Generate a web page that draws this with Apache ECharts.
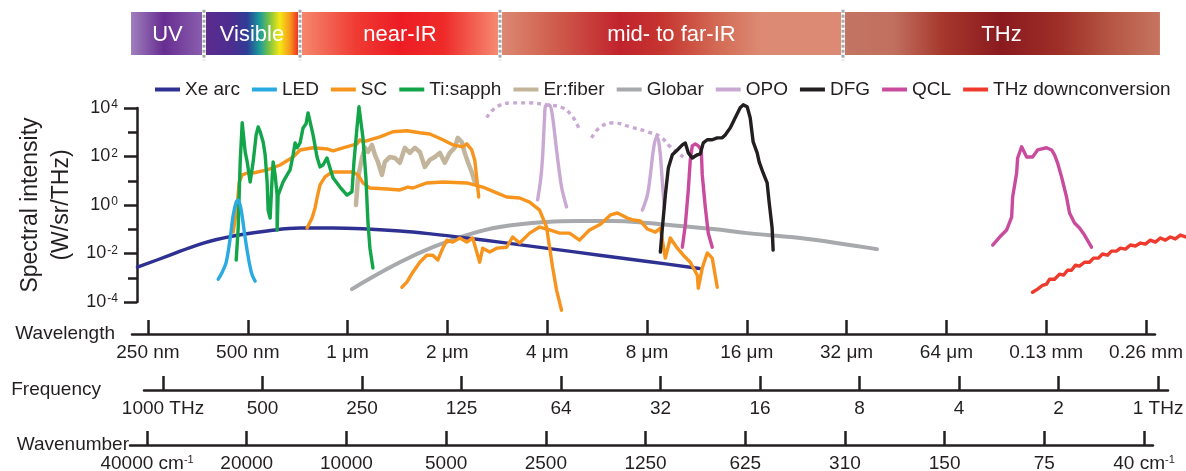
<!DOCTYPE html>
<html>
<head>
<meta charset="utf-8">
<script src="https://cdn.jsdelivr.net/npm/echarts@6/dist/echarts.min.js"></script>
<style>
  html, body { margin: 0; padding: 0; background: #fff; }
  #chart { width: 1186px; height: 471px; }
</style>
</head>
<body>
<div id="chart"></div>
<script>
// Spectra of broadband and tunable light sources.
// Every point is [log2(wavelength / µm), log10(spectral intensity / W·sr⁻¹·THz⁻¹)].

const xeArc = [[-2.11,-2.56],[-1.81,-2.11],[-1.48,-1.61],[-1.15,-1.28],[-0.81,-1.07],[-0.48,-0.95],
  [-0.15,-0.95],[0.19,-0.99],[0.52,-1.07],[0.85,-1.20],[1.19,-1.36],[1.52,-1.53],[2.02,-1.80],
  [2.52,-2.07],[3.02,-2.34],[3.52,-2.62]];

const led = [[-1.30,-3.06],[-1.26,-2.77],[-1.22,-2.36],[-1.18,-1.36],[-1.15,-0.41],[-1.12,0.12],
  [-1.10,0.21],[-1.07,-0.21],[-1.03,-1.36],[-0.99,-2.36],[-0.96,-2.89],[-0.93,-3.14]];

const scVisNir = [[-1.15,-1.12],[-1.11,0.00],[-1.09,0.95],[-1.06,1.24],[-1.01,1.32],[-0.95,1.32],
  [-0.81,1.45],[-0.68,1.65],[-0.55,1.98],[-0.48,2.27],[-0.35,2.36],[-0.21,2.31],[-0.15,2.23],
  [-0.05,2.36],[0.09,2.52],[0.12,2.69],[0.15,2.60],[0.32,2.81],[0.45,3.02],[0.59,3.06],[0.72,2.98],
  [0.82,2.93],[0.95,2.69],[1.05,2.48],[1.15,2.40],[1.19,2.52],[1.24,2.27],[1.27,1.86],[1.29,1.12],
  [1.31,0.33]];

const scNirMir = [[-0.41,-0.95],[-0.36,-0.54],[-0.33,-0.12],[-0.31,0.29],[-0.28,0.83],[-0.23,1.16],
  [-0.16,1.36],[-0.08,1.36],[0.05,1.36],[0.10,1.24],[0.15,0.91],[0.22,0.70],[0.39,0.66],[0.52,0.62],
  [0.60,0.74],[0.65,0.70],[0.79,0.91],[0.95,0.95],[1.19,0.91],[1.35,0.74],[1.49,0.50],[1.59,0.33],
  [1.72,0.29],[1.82,0.12],[1.92,-0.21],[1.99,-0.91],[2.02,-1.74],[2.05,-2.56],[2.09,-3.51],[2.14,-4.34]];

const scMir = [[0.54,-3.39],[0.59,-3.18],[0.65,-2.77],[0.72,-2.36],[0.79,-2.07],[0.85,-2.07],
  [0.90,-2.27],[0.95,-1.78],[0.99,-1.45],[1.05,-1.53],[1.12,-1.36],[1.19,-1.53],[1.25,-1.36],
  [1.29,-1.94],[1.32,-2.36],[1.35,-1.78],[1.42,-1.94],[1.49,-1.78],[1.59,-1.74],[1.65,-1.32],
  [1.72,-1.57],[1.82,-1.16],[1.92,-0.91],[2.02,-1.03],[2.12,-1.16],[2.22,-1.16],[2.32,-1.45],
  [2.42,-1.03],[2.53,-0.79],[2.63,-0.41],[2.70,-0.33],[2.80,-0.54],[2.86,-0.62],[2.93,-0.66],
  [3.00,-0.99],[3.08,-1.12],[3.13,-0.95],[3.18,-2.19],[3.23,-1.36],[3.30,-1.78],[3.36,-2.07],
  [3.43,-2.36],[3.50,-2.89],[3.51,-3.43],[3.55,-2.60],[3.60,-1.98],[3.65,-2.19],[3.70,-3.39]];

const tiSapph = [[-1.12,-2.27],[-1.10,-0.95],[-1.08,1.78],[-1.06,3.39],[-1.05,3.31],[-1.03,2.19],
  [-1.01,1.78],[-0.98,0.95],[-0.96,0.91],[-0.95,1.78],[-0.92,2.89],[-0.90,3.22],[-0.88,3.02],
  [-0.85,2.60],[-0.83,2.07],[-0.81,0.95],[-0.80,-0.21],[-0.78,-0.54],[-0.76,1.12],[-0.75,1.78],
  [-0.73,1.24],[-0.71,0.41],[-0.71,-1.03],[-0.70,0.41],[-0.68,0.62],[-0.65,0.95],[-0.61,1.24],
  [-0.58,1.45],[-0.55,2.07],[-0.53,2.56],[-0.51,2.36],[-0.48,2.56],[-0.45,3.18],[-0.42,3.35],
  [-0.40,3.80],[-0.38,3.72],[-0.35,2.89],[-0.31,1.98],[-0.28,1.57],[-0.25,1.65],[-0.21,1.94],
  [-0.18,1.53],[-0.15,1.12],[-0.08,0.74],[-0.01,0.41],[0.04,0.54],[0.06,1.78],[0.09,3.18],
  [0.11,4.05],[0.13,4.01],[0.15,2.77],[0.18,1.12],[0.20,-0.70],[0.22,-1.78],[0.25,-2.60]];

const erFiber = [[0.08,0.00],[0.10,1.12],[0.14,1.94],[0.17,2.36],[0.20,2.19],[0.24,2.48],[0.27,2.07],
  [0.30,1.78],[0.34,1.24],[0.37,1.78],[0.42,1.98],[0.47,1.94],[0.52,1.74],[0.57,2.36],[0.62,2.15],
  [0.67,2.36],[0.72,2.19],[0.77,1.57],[0.82,1.86],[0.87,1.98],[0.92,2.15],[0.97,1.74],[1.02,2.15],
  [1.07,2.36],[1.10,2.77],[1.14,2.60],[1.17,2.15],[1.20,1.78],[1.24,1.36],[1.27,0.95]];

const globar = [[0.04,-3.47],[0.19,-3.10],[0.52,-2.36],[0.85,-1.74],[1.19,-1.24],[1.52,-0.91],
  [1.99,-0.70],[2.32,-0.66],[2.66,-0.66],[3.00,-0.74],[3.33,-0.87],[3.66,-0.99],[4.00,-1.16],
  [4.53,-1.36],[5.30,-1.82]];

const opoNearPeak = [[1.90,0.21],[1.93,1.03],[1.95,1.98],[1.97,3.64],[1.98,4.09],[2.02,4.13],
  [2.05,3.64],[2.09,2.27],[2.14,0.74],[2.19,-0.08]];
const opoMidPeak = [[2.95,-0.21],[3.00,0.41],[3.03,1.24],[3.06,2.27],[3.09,2.81],[3.11,2.69],
  [3.13,2.07],[3.15,0.95],[3.17,-0.12]];
const opoNearTuning = [[1.39,3.60],[1.49,4.05],[1.65,4.21],[1.82,4.21],[1.99,4.13],[2.15,4.01],
  [2.25,3.64],[2.32,3.10]];
const opoMidTuning = [[2.44,2.77],[2.53,3.22],[2.66,3.39],[2.83,3.22],[3.00,3.02],[3.13,2.81],
  [3.23,2.40],[3.36,1.98]];

const dfg = [[3.13,-1.94],[3.15,-0.95],[3.18,0.41],[3.21,1.53],[3.25,2.07],[3.30,2.27],[3.35,2.48],
  [3.38,2.56],[3.41,2.15],[3.45,1.94],[3.50,2.07],[3.53,2.11],[3.56,2.56],[3.60,2.69],[3.65,2.69],
  [3.70,2.77],[3.75,2.77],[3.78,2.89],[3.83,3.18],[3.88,3.60],[3.93,4.01],[3.96,4.13],[4.00,4.05],
  [4.03,3.60],[4.06,2.60],[4.10,2.15],[4.12,1.78],[4.16,1.32],[4.20,0.91],[4.22,0.12],[4.25,-0.95],
  [4.26,-1.86]];

const qclMir = [[3.35,-1.74],[3.38,-0.83],[3.41,0.62],[3.43,1.86],[3.45,2.44],[3.48,2.52],[3.51,2.44],
  [3.54,2.27],[3.55,1.24],[3.58,-0.08],[3.61,-1.16],[3.65,-1.74]];
const qclThz = [[6.46,-1.65],[6.53,-1.32],[6.60,-1.03],[6.65,-0.50],[6.66,0.33],[6.70,1.32],[6.71,1.94],
  [6.75,2.40],[6.77,2.48],[6.80,1.98],[6.86,1.98],[6.91,2.27],[7.00,2.36],[7.05,2.27],[7.08,2.07],
  [7.11,1.74],[7.15,1.16],[7.20,0.33],[7.23,-0.33],[7.28,-0.74],[7.33,-0.95],[7.38,-1.24],[7.45,-1.74]];

const thzDown = [[6.86,-3.60],[6.91,-3.47],[6.96,-3.31],[7.00,-3.26],[7.03,-3.06],[7.08,-3.06],
  [7.13,-2.85],[7.17,-2.89],[7.21,-2.69],[7.25,-2.69],[7.29,-2.48],[7.33,-2.52],[7.38,-2.36],
  [7.43,-2.36],[7.47,-2.19],[7.52,-2.19],[7.56,-2.02],[7.61,-2.07],[7.65,-1.90],[7.70,-1.90],
  [7.74,-1.78],[7.79,-1.82],[7.84,-1.65],[7.89,-1.69],[7.94,-1.57],[7.99,-1.61],[8.04,-1.45],
  [8.09,-1.53],[8.14,-1.36],[8.19,-1.45],[8.24,-1.32],[8.29,-1.40],[8.34,-1.24],[8.40,-1.32]];

// Spectral regions, edges in log2(wavelength / µm)
const bandNames = ['UV', 'Visible', 'near-IR', 'mid- to far-IR', 'THz'];
const bandEdges = [-2.174, -1.443, -0.481, 1.523, 4.960, 8.136];

// Bottom scales: tick positions and their labels
const wavelengthTicks = [-2, -1, 0, 1, 2, 3, 4, 5, 6, 7, 8];          // log2(λ / µm)
const wavelengthLabels = ['250 nm', '500 nm', '1 μm', '2 μm', '4 μm', '8 μm', '16 μm', '32 μm',
  '64 μm', '0.13 mm', '0.26 mm'];
const frequencyTicks = [0, 1, 2, 3, 4, 5, 6, 7, 8, 9, 10];           // octaves below 1000 THz
const frequencyLabels = ['1000 THz', '500', '250', '125', '64', '32', '16', '8', '4', '2', '1 THz'];
const wavenumberTicks = [0, 1, 2, 3, 4, 5, 6, 7, 8, 9, 10];          // octaves below 40000 cm⁻¹
const wavenumberLabels = ['40000 cm|-1', '20000', '10000', '5000', '2500', '1250', '625', '310',
  '150', '75', '40 cm|-1'];

const legendNames = ['Xe arc', 'LED', 'SC', 'Ti:sapph', 'Er:fiber', 'Globar', 'OPO', 'DFG', 'QCL',
  'THz downconversion'];

const INK = '#231f20';
const FONT = '"Liberation Sans", Arial, sans-serif';
const COLORS = {
  'Xe arc': '#2e3192', 'LED': '#29abe2', 'SC': '#f7941d', 'Ti:sapph': '#13a54a',
  'Er:fiber': '#c2b59b', 'Globar': '#a7a9ac', 'OPO': '#c9a9d4', 'DFG': '#231f20',
  'QCL': '#c94b9e', 'THz downconversion': '#ef3b2d'
};
const BAND_STOPS = [
  [[0, '#a07fbd'], [0.45, '#672d91'], [1, '#8c60b0']],
  [[0, '#5b2c8e'], [0.3, '#4c2d90'], [0.45, '#2e3d97'], [0.58, '#1b9c9a'], [0.68, '#7cc242'],
   [0.79, '#f5e814'], [0.9, '#f7941d'], [1, '#ed1c24']],
  [[0, '#f58a70'], [0.28, '#ef3b33'], [0.5, '#ed1c24'], [0.72, '#ee2b29'], [1, '#f68d74']],
  [[0, '#dc8a74'], [0.15, '#d0604e'], [0.35, '#c1232d'], [0.47, '#c5342f'], [0.62, '#d26651'],
   [0.76, '#dc8a73'], [1, '#dc8a73']],
  [[0, '#c47562'], [0.16, '#c16f5f'], [0.32, '#a5362c'], [0.5, '#8b1a1f'], [0.68, '#9e2e27'],
   [0.85, '#b65744'], [1, '#c67561']]
];

function curve(name, data, opts) {
  opts = opts || {};
  return {
    type: 'line', name: name, data: data, xAxisIndex: 0, yAxisIndex: 0,
    showSymbol: false, symbol: 'none', clip: false, silent: true,
    smooth: opts.smooth || false,
    itemStyle: { color: COLORS[name] },
    lineStyle: {
      color: COLORS[name], width: opts.width || 3.4, type: opts.dash || 'solid',
      cap: opts.dash ? 'butt' : 'round', join: 'round'
    }
  };
}

const bandSeries = {
  type: 'custom', xAxisIndex: 1, yAxisIndex: 1, silent: true, clip: false,
  data: bandNames.map((n, i) => [bandEdges[i], bandEdges[i + 1], i]),
  renderItem: function (params, api) {
    const i = api.value(2);
    const p0 = api.coord([api.value(0), 1]);
    const p1 = api.coord([api.value(1), 0]);
    const children = [{
      type: 'rect',
      shape: { x: p0[0], y: p0[1], width: p1[0] - p0[0], height: p1[1] - p0[1] },
      style: { fill: new echarts.graphic.LinearGradient(0, 0, 1, 0,
        BAND_STOPS[i].map(s => ({ offset: s[0], color: s[1] }))) }
    }, {
      type: 'text',
      style: { text: bandNames[i], x: (p0[0] + p1[0]) / 2, y: (p0[1] + p1[1]) / 2 + 1,
        align: 'center', verticalAlign: 'middle', fill: '#ffffff',
        fontSize: 22, fontFamily: FONT }
    }];
    if (i > 0) {
      const top = api.coord([api.value(0), 1.05])[1];
      const bottom = api.coord([api.value(0), -0.12])[1];
      children.push({ type: 'line', shape: { x1: p0[0], y1: top, x2: p0[0], y2: bottom },
        style: { stroke: '#ffffff', lineWidth: 4 } });
      children.push({ type: 'line', shape: { x1: p0[0], y1: top, x2: p0[0], y2: bottom },
        style: { stroke: '#a7a9ac', lineWidth: 3, lineDash: [3, 2] } });
    }
    return { type: 'group', children: children };
  }
};

function bottomAxis(gridIndex, min, max, ticks, labelFor, name, nameGap, namePad) {
  return {
    gridIndex: gridIndex, type: 'value', min: min, max: max, position: 'bottom',
    axisLine: { show: true, onZero: false, lineStyle: { color: INK, width: 2.5 } },
    axisTick: { show: true, inside: true, length: 14, customValues: ticks,
      lineStyle: { color: INK, width: 2.5 } },
    axisLabel: { show: true, customValues: ticks, margin: 9, color: INK, fontSize: 19,
      fontFamily: FONT, formatter: labelFor,
      rich: { n: { fontSize: 19, fontFamily: FONT, color: INK },
              s: { fontSize: 11, fontFamily: FONT, color: INK, verticalAlign: 'top', padding: [0, 0, 6, 0] } } },
    splitLine: { show: false },
    name: name, nameLocation: 'start', nameGap: nameGap, nameMoveOverlap: false,
    nameTextStyle: { color: INK, fontSize: 19, fontFamily: FONT, padding: namePad }
  };
}

function supLabel(txt) {
  const parts = txt.split('|');
  return parts.length > 1 ? '{n|' + parts[0] + '}{s|' + parts[1] + '}' : '{n|' + txt + '}';
}

const option = {
  animation: false,
  backgroundColor: '#ffffff',
  textStyle: { fontFamily: FONT },
  grid: [
    { left: 137, right: 0, top: 108, height: 194, outerBoundsMode: 'none' },  // spectra
    { left: 0, right: 0, top: 12, height: 43, outerBoundsMode: 'none' },      // spectral regions
    { left: 132, right: 31, top: 333, height: 1, outerBoundsMode: 'none' },   // wavelength scale
    { left: 144, right: 18, top: 389, height: 1, outerBoundsMode: 'none' },   // frequency scale
    { left: 130, right: 33, top: 444, height: 1, outerBoundsMode: 'none' }    // wavenumber scale
  ],
  legend: {
    data: legendNames, left: 150, top: 75, icon: 'rect', itemWidth: 25, itemHeight: 4,
    itemGap: 12, selectedMode: false,
    itemStyle: { borderWidth: 0 },
    textStyle: { fontSize: 19, color: INK, fontFamily: FONT }
  },
  xAxis: [
    { gridIndex: 0, type: 'value', min: -2.114, max: 8.397, show: false },
    { gridIndex: 1, type: 'value', min: -3.487, max: 8.397, show: false },
    bottomAxis(2, -2.16, 8.09, wavelengthTicks,
      v => wavelengthLabels[wavelengthTicks.indexOf(Math.round(v))], 'Wavelength', 17, [0, 0, 0, 0]),
    bottomAxis(3, -0.191, 10.10, frequencyTicks,
      v => frequencyLabels[frequencyTicks.indexOf(Math.round(v))], 'Frequency', 43, [0, 0, 0, 0]),
    bottomAxis(4, -0.171, 10.09, wavenumberTicks,
      v => supLabel(wavenumberLabels[wavenumberTicks.indexOf(Math.round(v))]), 'Wavenumber', 1, [0, 0, 12, 0])
  ],
  yAxis: [
    {
      gridIndex: 0, type: 'value', min: -4, max: 4, interval: 2, position: 'left',
      axisLine: { show: true, onZero: false, lineStyle: { color: INK, width: 2.5 } },
      axisTick: { show: true, length: 13, lineStyle: { color: INK, width: 2.5 } },
      minorTick: { show: true, splitNumber: 2, length: 9, lineStyle: { color: INK, width: 2.5 } },
      splitLine: { show: false },
      axisLabel: {
        margin: 19, color: INK,
        formatter: v => '{b|10}{e|' + v + '}',
        rich: { b: { fontSize: 18, fontFamily: FONT, color: INK },
                e: { fontSize: 12, fontFamily: FONT, color: INK, verticalAlign: 'top', padding: [0, 0, 6, 1] } }
      },
      name: 'Spectral intensity\n(W/sr/THz)', nameLocation: 'middle', nameRotate: 90, nameGap: 60,
      nameMoveOverlap: false,
      nameTextStyle: { fontSize: 23, fontFamily: FONT, color: INK, lineHeight: 31 }
    },
    { gridIndex: 1, type: 'value', min: 0, max: 1, show: false },
    { gridIndex: 2, type: 'value', min: 0, max: 1, show: false },
    { gridIndex: 3, type: 'value', min: 0, max: 1, show: false },
    { gridIndex: 4, type: 'value', min: 0, max: 1, show: false }
  ],
  series: [
    bandSeries,
    curve('Globar', globar, { smooth: 0.4, width: 4 }),
    curve('Xe arc', xeArc, { smooth: 0.4 }),
    curve('Er:fiber', erFiber, { width: 4.5 }),
    curve('SC', scVisNir),
    curve('SC', scNirMir),
    curve('SC', scMir),
    curve('Ti:sapph', tiSapph),
    curve('LED', led, { smooth: 0.3 }),
    curve('OPO', opoNearPeak, { smooth: 0.3 }),
    curve('OPO', opoMidPeak, { smooth: 0.3 }),
    curve('OPO', opoNearTuning, { smooth: 0.4, dash: [4, 4] }),
    curve('OPO', opoMidTuning, { smooth: 0.4, dash: [4, 4] }),
    curve('QCL', qclMir),
    curve('QCL', qclThz),
    curve('DFG', dfg),
    curve('THz downconversion', thzDown)
  ]
};

const chart = echarts.init(document.getElementById('chart'), null, { renderer: 'canvas' });
chart.setOption(option);
</script>
</body>
</html>
